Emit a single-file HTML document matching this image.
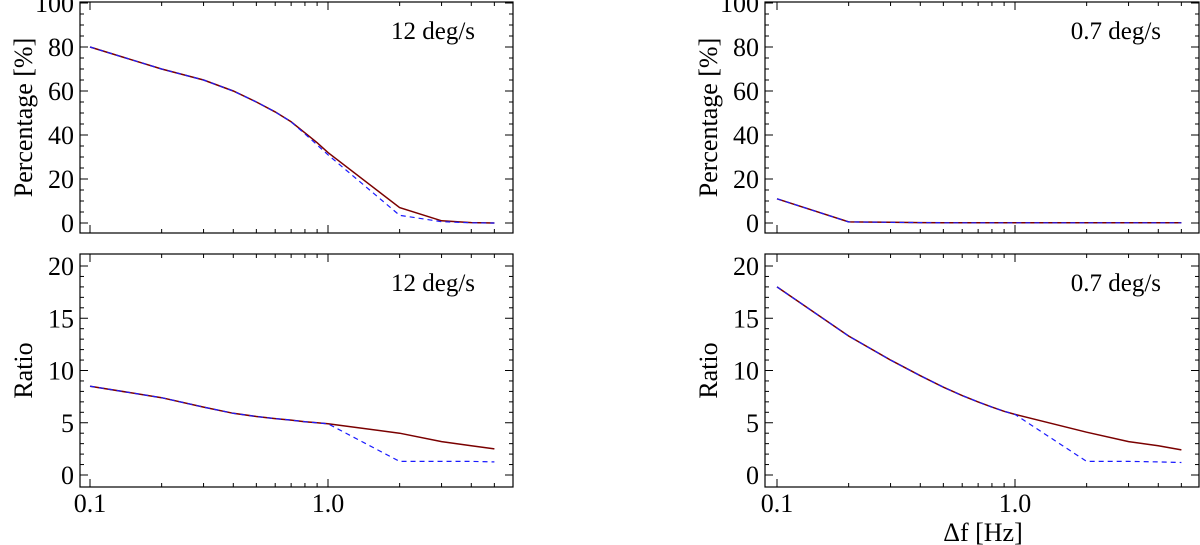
<!DOCTYPE html>
<html><head><meta charset="utf-8"><style>
html,body{margin:0;padding:0;background:#fff;}
svg{display:block;font-family:"Liberation Serif",serif;}
</style></head><body>
<svg id="c" width="1200" height="545" viewBox="0 0 1200 545"></svg>
<script>
const freqs=[0.1,0.2,0.3,0.4,0.5,0.6,0.7,0.8,0.9,1.0,2.0,3.0,4.0,5.0];
const pctFast=[80,70,65,60,55,50.5,46,41,36.5,32,7,1,0.2,0];
const pctFastDash=[80,70,65,60,55,50.5,46,40.5,35.5,31,3.5,0.6,0.1,0];
const pctSlow=[11,0.5,0.3,0.2,0.1,0.1,0.1,0.1,0.1,0.1,0.1,0.1,0.1,0.1];
const pctSlowDash=[11,0.5,0.3,0.2,0.1,0.1,0.1,0.1,0.1,0.1,0.1,0.1,0.1,0.1];
const ratFast=[8.5,7.4,6.5,5.9,5.6,5.4,5.25,5.1,5.0,4.9,4.0,3.2,2.8,2.5];
const ratFastDash=[8.5,7.4,6.5,5.9,5.6,5.4,5.25,5.1,5.0,4.9,1.3,1.3,1.3,1.25];
const ratSlow=[18,13.3,11,9.5,8.4,7.6,7.0,6.5,6.1,5.8,4.1,3.2,2.8,2.4];
const ratSlowDash=[18,13.3,11,9.5,8.4,7.6,7.0,6.5,6.1,5.8,1.3,1.3,1.25,1.2];
const pctTicks=[0,20,40,60,80,100];
const ratTicks=[0,5,10,15,20];
const xTickLabels=["0.1","1.0"];

const NS="http://www.w3.org/2000/svg";
const svg=document.getElementById('c');
function mk(tag,attrs,parent){const e=document.createElementNS(NS,tag);for(const k in attrs)e.setAttribute(k,attrs[k]);(parent||svg).appendChild(e);return e;}

function panel(o){
  const g=mk('g',{});
  
  
  const xs=v=>o.x01+(Math.log10(v)+1)*o.dec;
  const ys=v=>o.y0+(o.yTop-o.y0)*(v-o.ymin)/(o.ymax-o.ymin);
  const box=mk('rect',{x:o.L,y:o.T,width:o.R-o.L,height:o.B-o.T,fill:'none',stroke:'#000','stroke-width':1.2},g);
  
  
  const xt=[];
  for(let d=-1;d<=0;d++)for(let m=1;m<=9;m++)xt.push([m*Math.pow(10,d),m===1]);
  xt.forEach(([v,maj])=>{
    const x=xs(v); if(x<o.L||x>o.R)return;
    const len=maj?8:4;
    mk('line',{x1:x,x2:x,y1:o.B,y2:o.B-len,stroke:'#000','stroke-width':1},g);
    mk('line',{x1:x,x2:x,y1:o.T,y2:o.T+len,stroke:'#000','stroke-width':1},g);
  });
  const step=o.ticks[1]-o.ticks[0];
  for(let v=o.ticks[0];v<=o.ticks[o.ticks.length-1]+1e-6;v+=o.minor){
    const y=ys(v);
    const maj=Math.abs(v/step-Math.round(v/step))<1e-6;
    const len=maj?8:4;
    mk('line',{x1:o.L,x2:o.L+len,y1:y,y2:y,stroke:'#000','stroke-width':1},g);
    mk('line',{x1:o.R,x2:o.R-len,y1:y,y2:y,stroke:'#000','stroke-width':1},g);
  }
  o.ticks.forEach(v=>{
    const t=mk('text',{x:o.L-6,y:ys(v)+9,'text-anchor':'end','font-size':26},g);
    t.textContent=v;
    
    
  });
  if(o.xlabels){
    [0.1,1.0].forEach((v,i)=>{
      const t=mk('text',{x:xs(v),y:o.B+25,'text-anchor':'middle','font-size':26},g);
      t.textContent=xTickLabels[i];
      
      
    });
  }
  const cy=(o.T+o.B)/2;
  const yt=mk('text',{x:0,y:0,'text-anchor':'middle','font-size':26,transform:`translate(${o.L-48},${cy}) rotate(-90)`},g);
  yt.textContent=o.ytitle;
  
  
  const lab=mk('text',{x:o.R-38,y:o.T+37,'text-anchor':'end','font-size':25},g);
  lab.textContent=o.label;
  
  
  const pts=a=>freqs.map((f,i)=>xs(f).toFixed(1)+','+ys(a[i]).toFixed(1)).join(' ');
  const s=mk('polyline',{points:pts(o.solid),fill:'none',stroke:'#7a0000','stroke-width':1.5},g);
  
  
  const d=mk('polyline',{points:pts(o.dash),fill:'none',stroke:'#1a1aff','stroke-width':1.2,'stroke-dasharray':'5,4'},g);
  
  
}
panel({name:'panel-top-left',L:80,R:513,T:2,B:233,x01:90,dec:238,y0:223,yTop:3,ymin:0,ymax:100,ticks:pctTicks,minor:5,ytitle:'Percentage [%]',label:'12 deg/s',solid:pctFast,dash:pctFastDash});
panel({name:'panel-bottom-left',L:80,R:513,T:254,B:487,x01:90,dec:238,y0:475,yTop:266,ymin:0,ymax:20,ticks:ratTicks,minor:1,ytitle:'Ratio',label:'12 deg/s',solid:ratFast,dash:ratFastDash,xlabels:true});
panel({name:'panel-top-right',L:765,R:1199,T:2,B:233,x01:777,dec:238,y0:223,yTop:3,ymin:0,ymax:100,ticks:pctTicks,minor:5,ytitle:'Percentage [%]',label:'0.7 deg/s',solid:pctSlow,dash:pctSlowDash});
panel({name:'panel-bottom-right',L:765,R:1199,T:254,B:487,x01:777,dec:238,y0:475,yTop:266,ymin:0,ymax:20,ticks:ratTicks,minor:1,ytitle:'Ratio',label:'0.7 deg/s',solid:ratSlow,dash:ratSlowDash,xlabels:true});
const xt=mk('text',{x:983,y:541,'text-anchor':'middle','font-size':26});
xt.textContent='Δf [Hz]';


</script>
</body></html>
